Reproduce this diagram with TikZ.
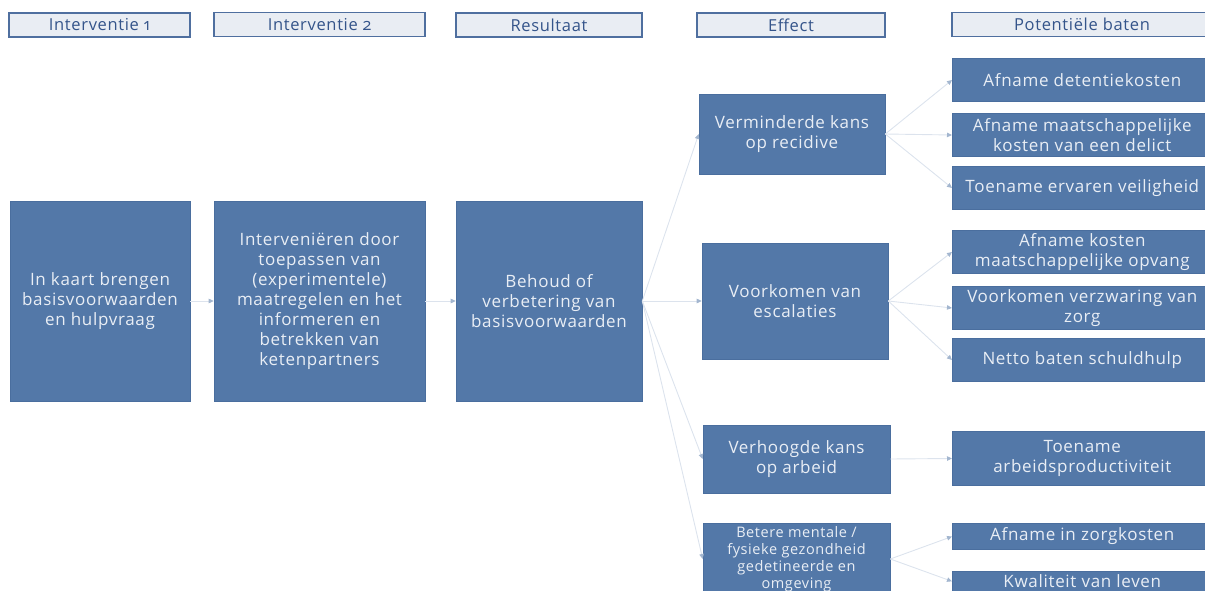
\documentclass[tikz,border=0pt]{standalone}
\usepackage{fontspec}
\setmainfont[LetterSpace=4,Numbers=OldStyle]{Open Sans}
\usetikzlibrary{arrows.meta}
\definecolor{boxblue}{HTML}{5378A8}
\definecolor{boxedge}{HTML}{4A6E9E}
\definecolor{boxtext}{HTML}{E9EEF5}
\definecolor{hdrfill}{HTML}{E9EDF3}
\definecolor{hdredge}{HTML}{4F6F9F}
\definecolor{hdrtext}{HTML}{34548A}
\definecolor{linec}{HTML}{DCE3ED}
\definecolor{tipc}{HTML}{A3B6CF}
\tikzset{
  hdr/.style={draw=hdredge, fill=hdrfill, line width=1.3pt, text=hdrtext,
    font=\fontsize{16.5}{18}\selectfont, inner sep=0pt, minimum height=24},
  bx/.style={fill=boxblue, draw=boxedge, line width=0.6pt, text=boxtext,
    font=\fontsize{17}{20}\selectfont, inner sep=0pt, align=center},
  conn/.style={draw=linec, line width=0.9pt,
    -{Triangle[length=5pt,width=4.5pt,color=tipc]}}
}
\begin{document}
\begin{tikzpicture}[x=1pt,y=-1pt]
\useasboundingbox (0,0) rectangle (1205,591);
% headers
\node[hdr, minimum width=181] (h1) at (99.5,25) {Interventie 1};
\node[hdr, minimum width=211] (h2) at (319.5,24.5) {Interventie 2};
\node[hdr, minimum width=186] (h3) at (549,25) {Resultaat};
\node[hdr, minimum width=188] (h4) at (791,25) {Effect};
\node[hdr, minimum width=260] (h5) at (1082,24.5) {Potentiële baten};
% main chain
\node[bx, minimum width=180, minimum height=200] (A) at (100,301)
  {In kaart brengen\\basisvoorwaarden\\en hulpvraag};
\node[bx, minimum width=211, minimum height=200] (B) at (319.5,301)
  {Interveniëren door\\toepassen van\\(experimentele)\\maatregelen en het\\informeren en\\betrekken van\\ketenpartners};
\node[bx, minimum width=186, minimum height=200] (C) at (549,301)
  {Behoud of\\verbetering van\\basisvoorwaarden};
% effects
\node[bx, minimum width=186, minimum height=80] (E1) at (792,134)
  {Verminderde kans\\op recidive};
\node[bx, minimum width=186, minimum height=116] (E2) at (795,301)
  {Voorkomen van\\escalaties};
\node[bx, minimum width=187, minimum height=68] (E3) at (796.5,459)
  {Verhoogde kans\\op arbeid};
\node[bx, minimum width=187, minimum height=71, font=\fontsize{14.5}{17}\selectfont] (E4) at (796.5,559)
  {Betere mentale /\\fysieke gezondheid\\gedetineerde en\\omgeving};
% baten
\tikzset{bt/.style={bx, minimum width=260, anchor=west}}
\node[bt, minimum height=43] (P1) at (952,80) {Afname detentiekosten};
\node[bt, minimum height=43] (P2) at (952,135) {Afname maatschappelijke\\kosten van een delict};
\node[bt, minimum height=43] (P3) at (952,188) {Toename ervaren veiligheid};
\node[bt, minimum height=43] (P4) at (952,252) {Afname kosten\\maatschappelijke opvang};
\node[bt, minimum height=43] (P5) at (952,308) {Voorkomen verzwaring van\\zorg};
\node[bt, minimum height=43] (P6) at (952,360) {Netto baten schuldhulp};
\node[bt, minimum height=54] (P7) at (952,458.5) {Toename\\arbeidsproductiviteit};
\node[bt, minimum height=26] (P8) at (952,536.5) {Afname in zorgkosten};
\node[bt, minimum height=20, anchor=north west] (P9) at (952,571) {Kwaliteit van leven};
% connectors
\draw[conn] (A.east) -- (B.west);
\draw[conn] (B.east) -- (C.west);
\draw[conn] (C.east) -- (E1.west);
\draw[conn] (C.east) -- (E2.west);
\draw[conn] (C.east) -- (E3.west);
\draw[conn] (C.east) -- (E4.west);
\draw[conn] (E1.east) -- (P1.west);
\draw[conn] (E1.east) -- (P2.west);
\draw[conn] (E1.east) -- (P3.west);
\draw[conn] (E2.east) -- (P4.west);
\draw[conn] (E2.east) -- (P5.west);
\draw[conn] (E2.east) -- (P6.west);
\draw[conn] (E3.east) -- (P7.west);
\draw[conn] (E4.east) -- (P8.west);
\draw[conn] (E4.east) -- (P9.west);
\end{tikzpicture}
\end{document}
